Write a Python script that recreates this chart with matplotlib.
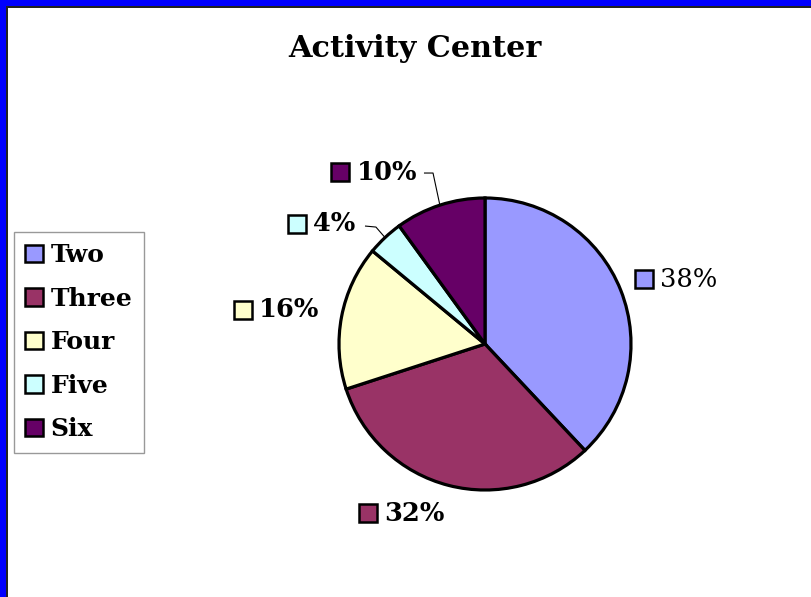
import matplotlib
matplotlib.use("Agg")
import matplotlib.pyplot as plt
from matplotlib.patches import Rectangle, Patch
import numpy as np

# ---- data ----
categories = ["Two", "Three", "Four", "Five", "Six"]
values = [38, 32, 16, 4, 10]
colors = ["#9999FF", "#993366", "#FFFFCC", "#CCFFFF", "#660066"]
title = "Activity Center"

# ---- layout (pixel space, y measured from the top) ----
W, H = 811, 597
CX, CY, R = 485, 344, 146
# label square centres as offsets in radius units
label_offsets = [(1.089, 0.445), (-0.798, -1.158), (-1.658, 0.233),
                 (-1.291, 0.822), (-0.990, 1.178)]
label_bold = [False, True, True, True, True]
# leader lines (start, elbow) in radius units; None = no leader
leaders = [None, None, None,
           ((-0.822, 0.808), (-0.747, 0.801)),
           ((-0.418, 1.171), (-0.356, 1.171))]

plt.rcParams['font.family'] = ['DejaVu Serif']

fig = plt.figure(figsize=(W / 100, H / 100), dpi=100)
ax = fig.add_axes([0, 0, 1, 1])

cxd, cyd = CX, H - CY
wedges, _ = ax.pie(values, colors=colors, startangle=90, counterclock=False,
                   center=(cxd, cyd), radius=R,
                   wedgeprops=dict(edgecolor="black", linewidth=2.3))
ax.set_xlim(0, W)
ax.set_ylim(0, H)
ax.set_aspect('auto')
ax.axis('off')

total = sum(values)
for i, (v, c) in enumerate(zip(values, colors)):
    ox, oy = label_offsets[i]
    sx, sy = cxd + ox * R, cyd + oy * R
    ax.plot([sx], [sy], marker='s', markersize=12.5, markerfacecolor=c,
            markeredgecolor='black', markeredgewidth=1.8, linestyle='none')
    ax.text(sx + 16, sy, f"{v / total * 100:.0f}%", ha='left', va='center',
            fontsize=18.5, fontweight='bold' if label_bold[i] else 'normal',
            color='black')
    if leaders[i] is not None:
        w = wedges[i]
        mid = np.deg2rad((w.theta1 + w.theta2) / 2)
        (ax1, ay1), (ax2, ay2) = leaders[i]
        xs = [cxd + ax1 * R, cxd + ax2 * R, cxd + np.cos(mid) * R]
        ys = [cyd + ay1 * R, cyd + ay2 * R, cyd + np.sin(mid) * R]
        ax.plot(xs, ys, color='black', linewidth=0.8, solid_capstyle='butt')

# title
ax.text(415, H - 57, title, ha='center', va='baseline', fontsize=21.8,
        fontweight='bold', color='black')

# legend
handles = [Patch(facecolor=c, edgecolor='black', linewidth=1.8) for c in colors]
leg = ax.legend(handles, categories, loc='upper left',
                bbox_to_anchor=(14, H - 232), bbox_transform=ax.transData,
                borderaxespad=0, fancybox=False, frameon=True,
                prop=dict(family='DejaVu Serif', weight='bold', size=18),
                handlelength=0.72, handleheight=0.72, handletextpad=0.3,
                borderpad=0.45, labelspacing=0.78)
leg.get_frame().set_edgecolor('#808080')
leg.get_frame().set_linewidth(1.0)

# border
ax.add_patch(Rectangle((0, 0), 6, H, facecolor='#0000FF', edgecolor='none', zorder=10))
ax.add_patch(Rectangle((0, H - 6), W, 6, facecolor='#0000FF', edgecolor='none', zorder=10))
ax.add_patch(Rectangle((6, 0), 1.5, H - 6, facecolor='#222222', edgecolor='none', zorder=10))
ax.add_patch(Rectangle((6, H - 7.5), W - 6, 1.5, facecolor='#222222', edgecolor='none', zorder=10))

fig.savefig("out.png", dpi=100)
